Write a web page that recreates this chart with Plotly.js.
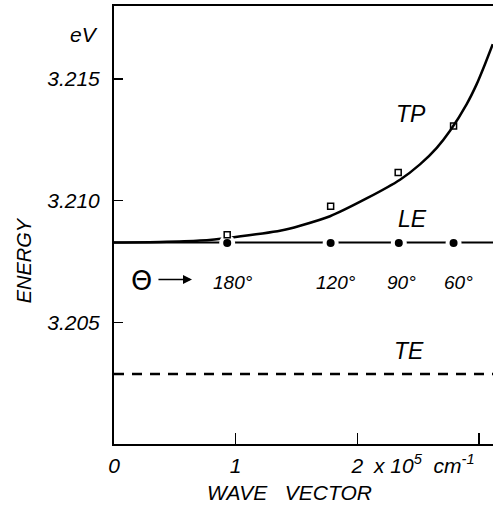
<!DOCTYPE html>
<html>
<head>
<meta charset="utf-8">
<script src="https://cdn.plot.ly/plotly-3.0.1.min.js"></script>
<style>html,body{margin:0;padding:0;background:#fff;}#chart{width:493px;height:505px;}</style>
</head>
<body>
<div id="chart"></div>
<script>
// Wave vector (10^5 cm^-1) and energy (eV) values
const tpCurveK = [0, 0.378, 0.707, 0.970, 1.373, 1.529, 1.775, 2.079, 2.350, 2.514, 2.652, 2.761, 2.898, 2.980, 3.048, 3.112];
const tpCurveE = [3.20828, 3.20830, 3.20836, 3.20849, 3.20877, 3.20897, 3.20936, 3.21010, 3.21086, 3.21149, 3.21217, 3.21287, 3.21397, 3.21479, 3.21561, 3.21643];

const tpPointsK = [0.93, 1.78, 2.335, 2.79];
const tpPointsE = [3.20860, 3.20977, 3.21116, 3.21307];

const lePointsK = [0.93, 1.78, 2.34, 2.79];
const lePointsE = [3.20826, 3.20826, 3.20826, 3.20826];
const angleLabels = ['180°', '120°', '90°', '60°'];

const leLineK = [0, 3.2];
const leLineE = [3.20828, 3.20828];
const teLineK = [0, 3.2];
const teLineE = [3.20288, 3.20288];

const xTickVals = [0, 1, 2, 3];
const xTickText = ['0', '1', '2', ''];
const yTickVals = [3.205, 3.210, 3.215];
const yTickText = ['3.205', '3.210', '3.215'];

const FONT = 'Liberation Sans, Arial, sans-serif';
const ital = (size) => ({family: FONT, size: size, color: '#000', style: 'italic'});

const traces = [
  {x: teLineK, y: teLineE, mode: 'lines', line: {color: '#000', width: 2.5, dash: '10px,8px'}, hoverinfo: 'skip'},
  {x: leLineK, y: leLineE, mode: 'lines', line: {color: '#000', width: 2}, hoverinfo: 'skip'},
  {x: tpCurveK, y: tpCurveE, mode: 'lines', line: {color: '#000', width: 2.5, shape: 'spline', smoothing: 0.6}, hoverinfo: 'skip'},
  {x: lePointsK, y: lePointsE, mode: 'markers', marker: {symbol: 'circle', size: 16, color: '#fff'}, hoverinfo: 'skip', cliponaxis: false},
  {x: lePointsK, y: lePointsE, mode: 'markers', marker: {symbol: 'circle', size: 8, color: '#000'}, hoverinfo: 'skip', cliponaxis: false},
  {x: tpPointsK, y: tpPointsE, mode: 'markers', marker: {symbol: 'square-open', size: 6, color: '#000', line: {width: 1.5, color: '#000'}}, hoverinfo: 'skip', cliponaxis: false}
];

const C = {xanchor: 'center', yanchor: 'middle', showarrow: false};
const annotations = [
  Object.assign({x: 2.44, y: 3.21357, text: 'TP', font: ital(23)}, C),
  Object.assign({x: 2.449, y: 3.20926, text: 'LE', font: ital(23)}, C),
  Object.assign({x: 2.424, y: 3.20384, text: 'TE', font: ital(23)}, C),
  Object.assign({x: 0.222, y: 3.20672, text: 'Θ', font: {family: 'DejaVu Sans', size: 27, color: '#000'}}, C),
  {x: 0.641, y: 3.20676, ax: 0.353, ay: 3.20676, axref: 'x', ayref: 'y', text: '', showarrow: true, arrowhead: 2, arrowsize: 1.2, arrowwidth: 1.5, arrowcolor: '#000'},
  Object.assign({x: -0.0792, xref: 'paper', y: 3.21681, text: 'eV', font: ital(21)}, C),
  {x: 2.112, xanchor: 'left', yanchor: 'middle', y: -0.0457, yref: 'paper', text: 'x 10<sup>5</sup>\u00a0\u00a0cm<sup>-1</sup>', showarrow: false, font: ital(21)},
  Object.assign({x: 1.446, y: -0.1096, yref: 'paper', text: 'WAVE\u00a0\u00a0\u00a0VECTOR', font: ital(21)}, C),
  Object.assign({x: -0.2375, xref: 'paper', y: 3.20755, text: 'ENERGY', textangle: -90, font: ital(20)}, C)
];
const angleY = [3.20663, 3.20665, 3.20665, 3.20665];
const angleX = [0.978, 1.824, 2.366, 2.827];
angleLabels.forEach((t, i) => annotations.push(Object.assign({x: angleX[i], y: angleY[i], text: t, font: ital(19)}, C)));

const layout = {
  width: 493, height: 505,
  margin: {l: 114, r: 0, t: 6, b: 61, pad: 0},
  paper_bgcolor: '#fff', plot_bgcolor: '#fff',
  showlegend: false,
  xaxis: {
    range: [0, 3.114], showgrid: false, zeroline: false,
    showline: true, linecolor: '#000', linewidth: 2, mirror: true,
    ticks: 'inside', ticklen: 11, tickwidth: 1.5, tickcolor: '#000',
    tickmode: 'array', tickvals: xTickVals, ticktext: xTickText,
    tickfont: ital(21), ticklabelstandoff: 2
  },
  yaxis: {
    range: [3.2000, 3.2180], showgrid: false, zeroline: false,
    showline: true, linecolor: '#000', linewidth: 2,
    ticks: 'inside', ticklen: 9, tickwidth: 1.5, tickcolor: '#000',
    tickmode: 'array', tickvals: yTickVals, ticktext: yTickText,
    tickfont: ital(21), ticklabelstandoff: 8
  },
  annotations: annotations
};

Plotly.newPlot('chart', traces, layout, {staticPlot: true, displayModeBar: false});
</script>
</body>
</html>
